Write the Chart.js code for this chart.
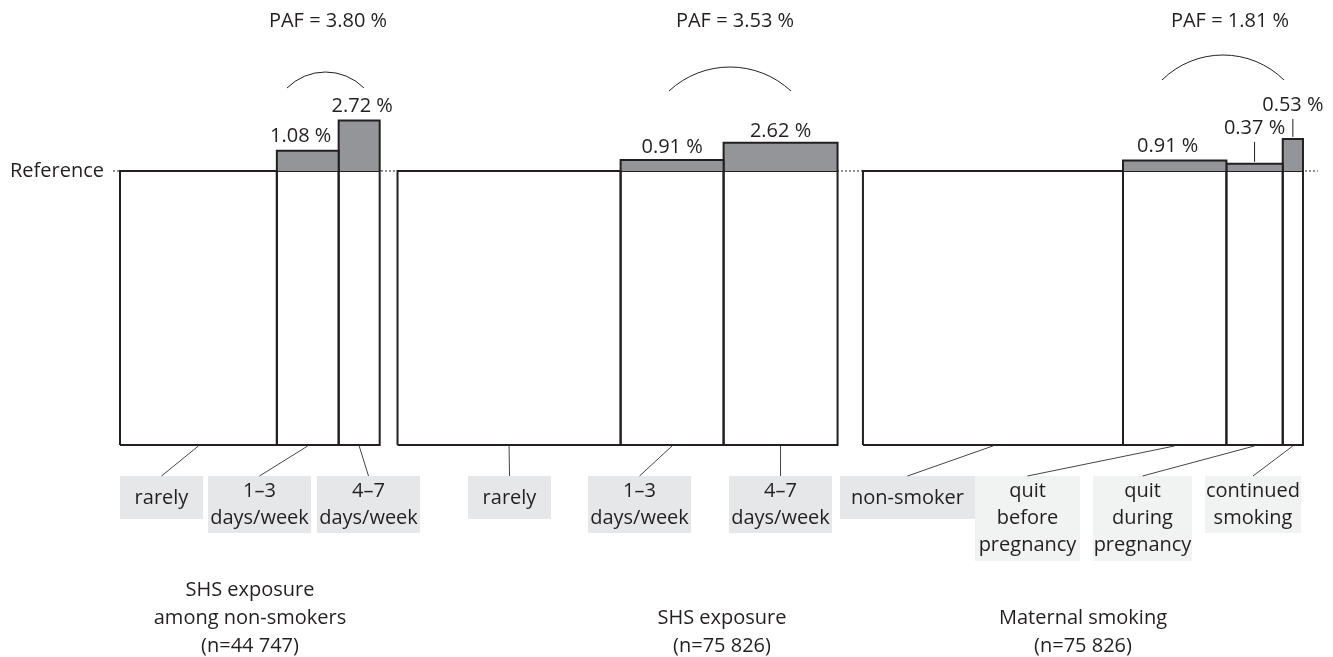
<!DOCTYPE html>
<html>
<head>
<meta charset="utf-8">
<script src="https://cdn.jsdelivr.net/npm/chart.js@4.4.1/dist/chart.umd.min.js"></script>
<style>
  html, body { margin: 0; padding: 0; background: #fff; }
  canvas { display: block; }
</style>
</head>
<body>
<canvas id="pafChart" width="1333" height="657"></canvas>
<script>
// Group titles and sizes
const groupTitles = [
    ['SHS exposure', 'among non-smokers', '(n=44 747)'],
    ['SHS exposure', '(n=75 826)'],
    ['Maternal smoking', '(n=75 826)']
];
const groupN = [44747, 75826, 75826];

// Category labels (one entry per line)
const shsNonSmokerCategories = [['rarely'], ['1–3', 'days/week'], ['4–7', 'days/week']];
const shsCategories = [['rarely'], ['1–3', 'days/week'], ['4–7', 'days/week']];
const maternalCategories = [['non-smoker'], ['quit', 'before', 'pregnancy'], ['quit', 'during', 'pregnancy'], ['continued', 'smoking']];

// Share of each group in every category (%)
const shsNonSmokerShare = [60.4, 23.8, 15.8];
const shsShare = [50.7, 23.4, 25.9];
const maternalShare = [59.1, 23.5, 12.8, 4.6];

// Relative risk against the reference category
const shsNonSmokerRR = [1, 1.074, 1.184];
const shsRR = [1, 1.040, 1.103];
const maternalRR = [1, 1.038, 1.026, 1.117];

// PAF contribution of each exposed category (%)
const shsNonSmokerPAF = [null, 1.08, 2.72];
const shsPAF = [null, 0.91, 2.62];
const maternalPAF = [null, 0.91, 0.37, 0.53];

const totalPAF = [3.80, 3.53, 1.81];

// ---- layout (not data) ----
const X_MAX = 229.7;                 // thousands of participants across the canvas
const Y_MIN = -0.774, Y_MAX = 1.624;
const groupStart = [20.68, 68.5, 148.7];
const refLine = [19.47, 227.1];

const INK = '#231f20';
const GREY = '#939598';
const FONT = '20px "Open Sans", sans-serif';

const labelBoxes = [
    [{ cx: 161.5, w: 83, c: '#e6e7e8' }, { cx: 259.5, w: 103, c: '#e6e7e8' }, { cx: 368.5, w: 103, c: '#e6e7e8' }],
    [{ cx: 509.5, w: 83, c: '#e6e7e8' }, { cx: 639.5, w: 103, c: '#e6e7e8' }, { cx: 780.5, w: 103, c: '#e6e7e8' }],
    [{ cx: 907.5, w: 135, c: '#e6e7e8' }, { cx: 1027.5, w: 105, c: '#f1f2f2' }, { cx: 1142.5, w: 99, c: '#f1f2f2' }, { cx: 1253, w: 96, c: '#f1f2f2' }]
];
const pctOffsets = [
    [null, { dx: -7, dy: -14 }, { dx: 3, dy: -14 }],
    [null, { dx: 0, dy: -13 }, { dx: 0, dy: -11 }],
    [null, { dx: -7, dy: -14 }, { dx: 0, dy: -36, leader: true }, { dx: 0, dy: -34, leader: true }]
];
const arcs = [
    { x0: 287, x1: 364, top: 72, base: 88 },
    { x0: 669, x1: 791, top: 67, base: 91 },
    { x0: 1162, x1: 1284, top: 55, base: 80 }
];
const pafX = [328, 735, 1230];
const titleX = [250, 722, 1083];

const groups = [
    { share: shsNonSmokerShare, rr: shsNonSmokerRR, pct: shsNonSmokerPAF, cats: shsNonSmokerCategories },
    { share: shsShare, rr: shsRR, pct: shsPAF, cats: shsCategories },
    { share: maternalShare, rr: maternalRR, pct: maternalPAF, cats: maternalCategories }
];

// x-bounds of every category, in thousands of participants
groups.forEach((g, gi) => {
    let x = groupStart[gi];
    g.bounds = g.share.map(s => {
        const w = s / 100 * groupN[gi] / 1000;
        const b = [x, x + w];
        x += w;
        return b;
    });
});

const datasets = [];
groups.forEach(g => {
    g.bounds.forEach(([x0, x1], i) => {
        if (g.rr[i] > 1) {
            datasets.push({
                data: [{ x: x0, y: 1 }, { x: x0, y: g.rr[i] }, { x: x1, y: g.rr[i] }, { x: x1, y: 1 }],
                borderColor: INK, borderWidth: 2, backgroundColor: GREY,
                fill: { value: 1 }, pointRadius: 0, tension: 0
            });
        }
        datasets.push({
            data: [{ x: x0, y: 0 }, { x: x0, y: 1 }, { x: x1, y: 1 }, { x: x1, y: 0 }, { x: x0, y: 0 }],
            borderColor: INK, borderWidth: 2, fill: false, pointRadius: 0, tension: 0
        });
    });
});
// dotted reference level, drawn underneath
datasets.push({
    data: [{ x: refLine[0], y: 1 }, { x: refLine[1], y: 1 }],
    borderColor: INK, borderWidth: 1, borderDash: [2, 2], fill: false, pointRadius: 0
});

const annotations = {
    id: 'annotations',
    afterDraw(chart) {
        const { ctx } = chart;
        const xs = chart.scales.x, ys = chart.scales.y;
        const yBottom = ys.getPixelForValue(0);
        ctx.save();
        ctx.font = FONT;
        ctx.fillStyle = INK;
        ctx.textAlign = 'right';
        ctx.textBaseline = 'middle';
        ctx.fillText('Reference', 104, ys.getPixelForValue(1));

        groups.forEach((g, gi) => {
            // category boxes and connectors
            g.bounds.forEach(([x0, x1], i) => {
                const box = labelBoxes[gi][i];
                const lines = g.cats[i];
                const top = 476;
                const h = lines.length === 1 ? 43 : lines.length === 2 ? 57 : 85;
                ctx.fillStyle = box.c;
                ctx.fillRect(box.cx - box.w / 2, top, box.w, h);

                const bx = xs.getPixelForValue((x0 + x1) / 2);
                ctx.strokeStyle = '#444';
                ctx.lineWidth = 1;
                ctx.beginPath();
                ctx.moveTo(bx, yBottom + 1);
                ctx.lineTo(box.cx, top);
                ctx.stroke();

                ctx.fillStyle = INK;
                ctx.textAlign = 'center';
                lines.forEach((t, li) => {
                    const ty = lines.length === 1 ? 498 : 491 + li * 27;
                    ctx.fillText(t, box.cx, ty);
                });

                // excess-risk labels
                if (g.pct[i] != null) {
                    const off = pctOffsets[gi][i];
                    const barTop = ys.getPixelForValue(g.rr[i]);
                    const lx = bx + off.dx;
                    const ly = barTop + off.dy;
                    ctx.fillText(g.pct[i].toFixed(2) + ' %', lx, ly);
                    if (off.leader) {
                        ctx.strokeStyle = INK;
                        ctx.beginPath();
                        ctx.moveTo(bx, ly + 14);
                        ctx.lineTo(bx, barTop - 2);
                        ctx.stroke();
                    }
                }
            });

            // arc and overall PAF
            const a = arcs[gi];
            const c = a.x1 - a.x0, s = a.base - a.top;
            const r = (c * c / 4 + s * s) / (2 * s);
            const cx = (a.x0 + a.x1) / 2, cy = a.top + r;
            const half = Math.asin((c / 2) / r);
            ctx.strokeStyle = INK;
            ctx.lineWidth = 1;
            ctx.beginPath();
            ctx.arc(cx, cy, r, -Math.PI / 2 - half, -Math.PI / 2 + half);
            ctx.stroke();

            ctx.fillStyle = INK;
            ctx.textAlign = 'center';
            ctx.fillText('PAF = ' + totalPAF[gi].toFixed(2) + ' %', pafX[gi], 21);

            // group title, bottom aligned
            const t = groupTitles[gi];
            t.forEach((line, li) => {
                ctx.fillText(line, titleX[gi], 646 - (t.length - 1 - li) * 28);
            });
        });
        ctx.restore();
    }
};

new Chart(document.getElementById('pafChart'), {
    type: 'line',
    data: { datasets },
    options: {
        responsive: false,
        animation: false,
        layout: { padding: 0 },
        plugins: {
            legend: { display: false },
            tooltip: { enabled: false }
        },
        scales: {
            x: { type: 'linear', min: 0, max: X_MAX, display: false },
            y: { type: 'linear', min: Y_MIN, max: Y_MAX, display: false }
        }
    },
    plugins: [annotations]
});
</script>
</body>
</html>
